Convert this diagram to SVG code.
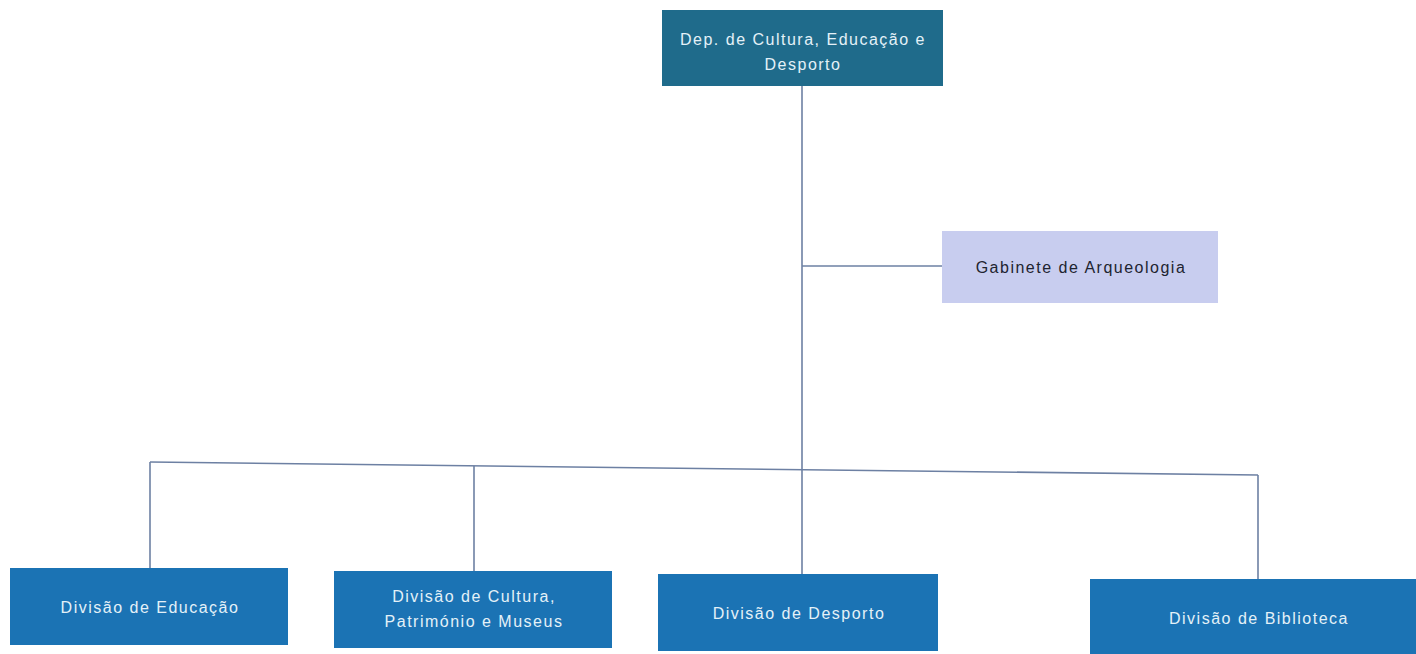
<svg xmlns="http://www.w3.org/2000/svg" width="1416" height="654" viewBox="0 0 1416 654">
  <style>
    .top { fill: #1f6b8b; }
    .div { fill: #1b73b4; }
    .gab { fill: #c8cdef; }
    .lbl { font-family: "Liberation Sans", Arial, sans-serif; font-size: 16px; letter-spacing: 1.5px; text-anchor: middle; }
    .light { fill: #e4f1f8; }
    .dark { fill: #1e2430; }
    .conn { stroke: #6d80a3; stroke-width: 1.6; fill: none; }
  </style>
  <rect width="1416" height="654" fill="#ffffff"/>

  <!-- connectors -->
  <g id="connectors">
    <line class="conn" x1="802" y1="86" x2="802" y2="574"/>
    <line class="conn" x1="802" y1="266" x2="942" y2="266"/>
    <line class="conn" x1="150" y1="462" x2="1258" y2="475"/>
    <line class="conn" x1="150" y1="462" x2="150" y2="568"/>
    <line class="conn" x1="474" y1="466" x2="474" y2="571"/>
    <line class="conn" x1="1258" y1="475" x2="1258" y2="579"/>
  </g>

  <g id="dep-cultura">
    <rect class="top" x="662" y="10" width="281" height="76"/>
    <text class="lbl light" x="803" y="45">Dep. de Cultura, Educação e</text>
    <text class="lbl light" x="803" y="70">Desporto</text>
  </g>

  <g id="gabinete-arqueologia">
    <rect class="gab" x="942" y="231" width="276" height="72"/>
    <text class="lbl dark" x="1081" y="273">Gabinete de Arqueologia</text>
  </g>

  <g id="div-educacao">
    <rect class="div" x="10" y="568" width="278" height="77"/>
    <text class="lbl light" x="150" y="613">Divisão de Educação</text>
  </g>

  <g id="div-cultura">
    <rect class="div" x="334" y="571" width="278" height="77"/>
    <text class="lbl light" x="474" y="602">Divisão de Cultura,</text>
    <text class="lbl light" x="474" y="627">Património e Museus</text>
  </g>

  <g id="div-desporto">
    <rect class="div" x="658" y="574" width="280" height="77"/>
    <text class="lbl light" x="799" y="619">Divisão de Desporto</text>
  </g>

  <g id="div-biblioteca">
    <rect class="div" x="1090" y="579" width="330" height="80"/>
    <text class="lbl light" x="1259" y="624">Divisão de Biblioteca</text>
  </g>
</svg>
